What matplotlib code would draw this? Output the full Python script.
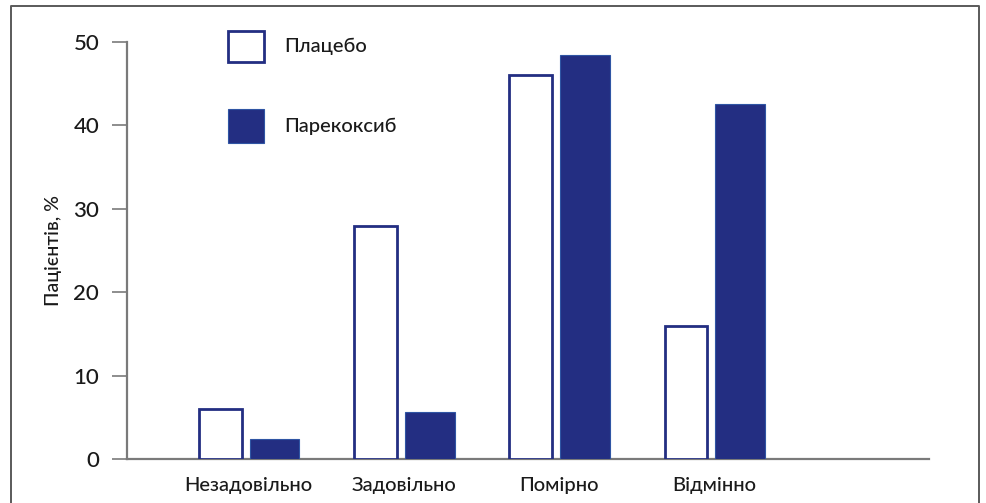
import matplotlib
matplotlib.use("Agg")
import matplotlib.pyplot as plt
import numpy as np
from matplotlib.patches import Rectangle

plt.rcParams['font.family'] = ['Lato', 'DejaVu Sans']

categories = ["Незадовільно", "Задовільно", "Помірно", "Відмінно"]
placebo = [6.0, 28.0, 46.0, 16.0]
parecoxib = [2.4, 5.7, 48.5, 42.6]
series_names = ["Плацебо", "Парекоксиб"]
y_ticks = [0, 10, 20, 30, 40, 50]
y_label = "Пацієнтів, %"

navy = "#232E82"
navy_edge = "#2F55A4"
axis_grey = "#7a7a7a"
text_col = "#1a1a1a"
weight = "medium"

fig = plt.figure(figsize=(9.87, 5.03), dpi=100)
ax = fig.add_axes([0.1287, 0.0869, 0.8125, 0.8296])

x = np.arange(len(categories))
ax.bar(x - 0.184, placebo, width=0.275, facecolor="white",
       edgecolor=navy, linewidth=2.0, zorder=3)
ax.bar(x + 0.165, parecoxib, width=0.32, facecolor=navy,
       edgecolor=navy_edge, linewidth=0.8, zorder=3)

ax.set_xlim(-0.784, 4.38)
ax.set_ylim(0, 50)

for side in ("top", "right"):
    ax.spines[side].set_visible(False)
for side in ("left", "bottom"):
    ax.spines[side].set_color(axis_grey)
    ax.spines[side].set_linewidth(1.6)

ax.set_yticks(y_ticks)
ax.set_yticklabels([str(t) for t in y_ticks], fontsize=16, color=text_col,
                   fontweight=weight)
ax.tick_params(axis="y", length=11, width=1.2, color=axis_grey, pad=9)
ax.set_xticks(x)
ax.set_xticklabels(categories, fontsize=14.5, color=text_col, fontweight=weight)
ax.tick_params(axis="x", length=0, pad=13)
ax.set_ylabel(y_label, fontsize=14, color=text_col, labelpad=8, fontweight=weight)

# legend boxes drawn in figure pixels
W, H = fig.get_size_inches() * fig.dpi
def fx(px):
    return px / W
def fy(py):
    return 1 - py / H

fig.patches.append(Rectangle((fx(228), fy(62)), fx(36), 31 / H, transform=fig.transFigure,
                             facecolor="white", edgecolor=navy, linewidth=2.0))
fig.patches.append(Rectangle((fx(228), fy(142.5)), fx(36), 33 / H, transform=fig.transFigure,
                             facecolor=navy, edgecolor=navy_edge, linewidth=0.8))
fig.text(fx(284), fy(46), series_names[0], fontsize=14.5, color=text_col,
         va="center", fontweight=weight)
fig.text(fx(284), fy(126), series_names[1], fontsize=14.5, color=text_col,
         va="center", fontweight=weight)

# outer frame, open at the bottom
frame_col = "#5a5a5a"
fig.add_artist(plt.Line2D([fx(10.5), fx(10.5), fx(979), fx(979)],
                          [0, fy(6), fy(6), 0], transform=fig.transFigure,
                          color=frame_col, linewidth=1.4))

fig.savefig("out.png", dpi=100)
